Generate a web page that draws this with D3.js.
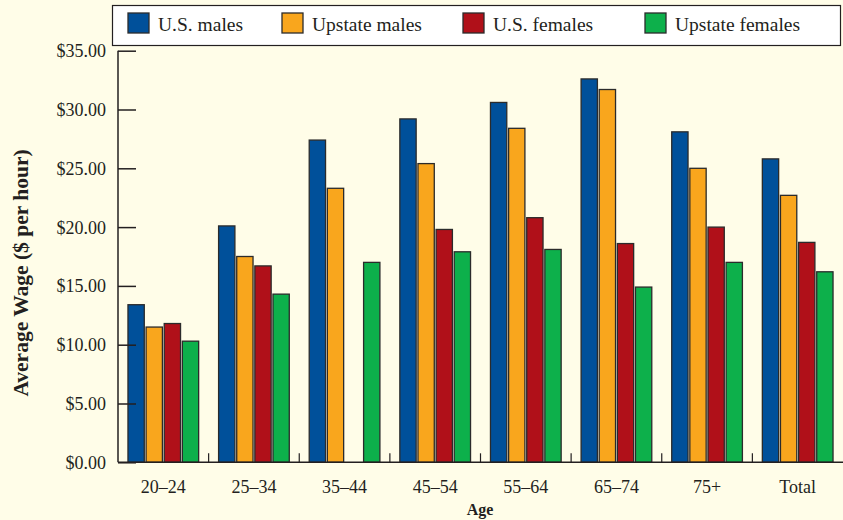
<!DOCTYPE html>
<html lang="en">
	<head>
		<meta charset="utf-8">
		<title>Average Wage by Age</title>
		<script type="text/javascript" src="https://cdn.jsdelivr.net/npm/d3@7/dist/d3.min.js"></script>
		<style type="text/css">
			body { margin: 0; background: #fffde8; }
			text { font-family: "Liberation Serif", "DejaVu Serif", serif; fill: #231f20; }
		</style>
	</head>
	<body>
		<script type="text/javascript">

			//Width and height
			var w = 843;
			var h = 520;

			var ageGroups = ["20\u201324", "25\u201334", "35\u201344", "45\u201354", "55\u201364", "65\u201374", "75+", "Total"];
			var seriesNames = ["U.S. males", "Upstate males", "U.S. females", "Upstate females"];
			var seriesColors = ["#00509a", "#f9a61d", "#b01019", "#0db04b"];

			var usMales       = [13.4, 20.1, 27.4, 29.2, 30.6, 32.6, 28.1, 25.8];
			var upstateMales  = [11.5, 17.5, 23.3, 25.4, 28.4, 31.7, 25.0, 22.7];
			var usFemales     = [11.8, 16.7, null, 19.8, 20.8, 18.6, 20.0, 18.7];
			var upstateFemales= [10.3, 14.3, 17.0, 17.9, 18.1, 14.9, 17.0, 16.2];

			var yTicks = [0, 5, 10, 15, 20, 25, 30, 35];

			var seriesValues = [usMales, upstateMales, usFemales, upstateFemales];

			var plotL = 118, plotR = 843, plotT = 50.7, plotB = 462.3;

			var xScale = d3.scaleBand()
							.domain(ageGroups)
							.range([plotL, plotR])
							.paddingInner(0.22)
							.paddingOuter(0.11);

			var xInner = d3.scaleBand()
							.domain(d3.range(seriesNames.length))
							.range([0, xScale.bandwidth()])
							.paddingInner(0.1);

			var yScale = d3.scaleLinear()
							.domain([0, 35])
							.range([plotB, plotT]);

			var svg = d3.select("body")
						.append("svg")
						.attr("width", w)
						.attr("height", h);

			svg.append("rect")
				.attr("width", w)
				.attr("height", h)
				.attr("fill", "#fffde8");

			//Bars
			var groups = svg.selectAll("g.group")
				.data(ageGroups)
				.enter()
				.append("g")
				.attr("class", "group")
				.attr("transform", function(d) { return "translate(" + xScale(d) + ",0)"; });

			groups.selectAll("rect")
				.data(function(d, i) {
					return seriesValues.map(function(s, j) { return { s: j, v: s[i] }; })
						.filter(function(e) { return e.v != null; });
				})
				.enter()
				.append("rect")
				.attr("x", function(d) { return xInner(d.s); })
				.attr("y", function(d) { return yScale(d.v); })
				.attr("width", xInner.bandwidth())
				.attr("height", function(d) { return plotB - yScale(d.v); })
				.attr("fill", function(d) { return seriesColors[d.s]; })
				.attr("stroke", "#2b2b2b")
				.attr("stroke-width", 1.3);

			//Y axis (ticks pointing inward)
			var yAxis = d3.axisRight(yScale)
							.tickValues(yTicks)
							.tickSize(18)
							.tickFormat("");

			var yG = svg.append("g")
				.attr("transform", "translate(" + plotL + ",0)")
				.call(yAxis);
			yG.select(".domain").remove();
			yG.selectAll("line").attr("stroke", "#231f20").attr("stroke-width", 1.5);

			svg.append("line")
				.attr("x1", plotL).attr("x2", plotL)
				.attr("y1", plotT).attr("y2", plotB)
				.attr("stroke", "#231f20")
				.attr("stroke-width", 1.5);

			svg.selectAll("text.ylab")
				.data(yTicks)
				.enter()
				.append("text")
				.attr("class", "ylab")
				.attr("x", 106)
				.attr("y", function(d) { return yScale(d) + 6.5; })
				.attr("text-anchor", "end")
				.attr("font-size", "18px")
				.text(function(d) { return "$" + d3.format(".2f")(d); });

			//X axis
			svg.append("line")
				.attr("x1", plotL).attr("x2", plotR)
				.attr("y1", plotB).attr("y2", plotB)
				.attr("stroke", "#231f20")
				.attr("stroke-width", 1.5);

			var step = xScale.step();
			svg.selectAll("line.xtick")
				.data(ageGroups.slice(0, -1))
				.enter()
				.append("line")
				.attr("class", "xtick")
				.attr("x1", function(d) { return xScale(d) + xScale.bandwidth() + (step - xScale.bandwidth()) / 2; })
				.attr("x2", function(d) { return xScale(d) + xScale.bandwidth() + (step - xScale.bandwidth()) / 2; })
				.attr("y1", plotB)
				.attr("y2", plotB - 9)
				.attr("stroke", "#231f20")
				.attr("stroke-width", 1.2);

			svg.selectAll("text.xlab")
				.data(ageGroups)
				.enter()
				.append("text")
				.attr("class", "xlab")
				.attr("x", function(d) { return xScale(d) + xScale.bandwidth() / 2; })
				.attr("y", 493)
				.attr("text-anchor", "middle")
				.attr("font-size", "18px")
				.text(function(d) { return d; });

			//Axis titles
			svg.append("text")
				.attr("x", 480)
				.attr("y", 515)
				.attr("text-anchor", "middle")
				.attr("font-size", "16px")
				.attr("font-weight", "bold")
				.text("Age");

			svg.append("text")
				.attr("transform", "translate(28,273) rotate(-90)")
				.attr("text-anchor", "middle")
				.attr("font-size", "21.5px")
				.attr("font-weight", "bold")
				.text("Average Wage ($ per hour)");

			//Legend
			svg.append("rect")
				.attr("x", 112.5)
				.attr("y", 5.5)
				.attr("width", 728)
				.attr("height", 40)
				.attr("fill", "#ffffff")
				.attr("stroke", "#231f20")
				.attr("stroke-width", 1.2);

			var legendX = [128, 282, 463, 645];
			var legend = svg.selectAll("g.legend")
				.data(seriesNames)
				.enter()
				.append("g")
				.attr("class", "legend")
				.attr("transform", function(d, i) { return "translate(" + legendX[i] + ",13)"; });

			legend.append("rect")
				.attr("width", 21)
				.attr("height", 20)
				.attr("fill", function(d, i) { return seriesColors[i]; })
				.attr("stroke", "#2b2b2b")
				.attr("stroke-width", 1.3);

			legend.append("text")
				.attr("x", 30)
				.attr("y", 18)
				.attr("font-size", "19.5px")
				.text(function(d) { return d; });

		</script>
	</body>
</html>
